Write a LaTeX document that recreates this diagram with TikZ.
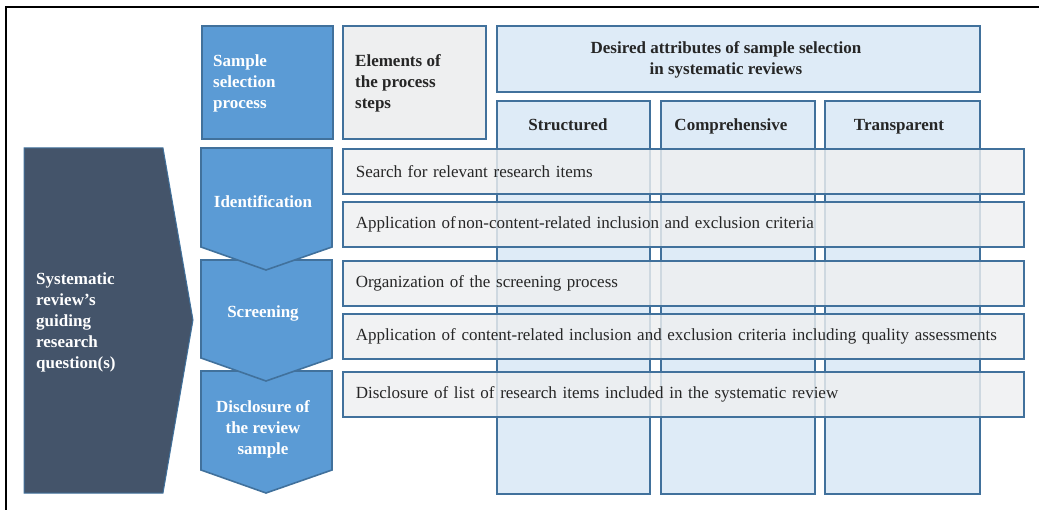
\documentclass[tikz,border=0pt]{standalone}
\usepackage{fontspec}
\setmainfont{Liberation Serif}
\usepackage{tikz}

\definecolor{stepblue}{HTML}{5B9BD5}
\definecolor{edgeblue}{HTML}{41719C}
\definecolor{paleblue}{HTML}{DEEBF7}
\definecolor{palegray}{HTML}{EEEFF0}
\definecolor{slate}{HTML}{44546A}
\definecolor{inktext}{HTML}{262626}
\newcommand{\txtsize}{\fontsize{17pt}{21pt}\selectfont}

\tikzset{
    boxline/.style={draw=edgeblue, line width=1.6pt},
    stepbox/.style={boxline, fill=stepblue},
    attrbox/.style={boxline, fill=paleblue, anchor=north west},
    rowbox/.style={boxline, fill=palegray, fill opacity=0.82, text opacity=1,
        anchor=north west, minimum height=45pt, text width=655pt,
        inner xsep=13pt, align=left, text=inktext, font=\txtsize},
    whitetxt/.style={text=white, font=\txtsize\bfseries, inner sep=0pt},
    headtxt/.style={text=inktext, font=\txtsize\bfseries, inner sep=0pt},
}

\begin{document}
\begin{tikzpicture}[x=1pt, y=-1pt]
    \useasboundingbox (0,0) rectangle (1039,510);
    \draw[line width=2pt] (6,510) -- (6,7) -- (1039,7);

    % header row
    \node[stepbox, anchor=north west, minimum width=131pt, minimum height=113pt] (selbox) at (201,25) {};
    \node[whitetxt, anchor=west, align=left] (sellabel) at (213,83) {Sample\\selection\\process};
    \node[boxline, fill=palegray, anchor=north west, minimum width=143pt, minimum height=113pt] (elembox) at (342,25) {};
    \node[headtxt, anchor=west, align=left] (elemlabel) at (355,83) {Elements of\\the process\\steps};
    \node[attrbox, minimum width=483pt, minimum height=66pt] (attrbox) at (496,25) {};
    \node[headtxt, align=center] (attrlabel) at (726,60) {Desired attributes of sample selection\\in systematic reviews};

    % attribute columns
    \node[attrbox, minimum width=153pt, minimum height=393pt] (colstruct) at (496,100) {};
    \node[attrbox, minimum width=154pt, minimum height=393pt] (colcomp) at (660,100) {};
    \node[attrbox, minimum width=155pt, minimum height=393pt] (coltrans) at (824,100) {};
    \node[headtxt, anchor=base] (structlabel) at (568,131) {Structured};
    \node[headtxt, anchor=base] (complabel) at (731,131) {Comprehensive};
    \node[headtxt, anchor=base] (translabel) at (899,131) {Transparent};

    % guiding question
    \draw[draw=edgeblue, line width=1pt, fill=slate] (24,148) -- (163,148) -- (193,320) -- (163,493) -- (24,493) -- cycle;
    \node[whitetxt, anchor=west, align=left] (question) at (36,322) {Systematic\\review’s\\guiding\\research\\question(s)};

    % process steps
    \draw[stepbox] (201,371) -- (332,371) -- (332,470) -- (266,493) -- (201,470) -- cycle;
    \draw[stepbox] (201,260) -- (332,260) -- (332,358) -- (266,381) -- (201,358) -- cycle;
    \draw[stepbox] (201,148) -- (332,148) -- (332,247) -- (266,270) -- (201,247) -- cycle;
    \node[whitetxt] (ident) at (263,202) {Identification};
    \node[whitetxt] (screen) at (263,313) {Screening};
    \node[whitetxt, align=center] (disclose) at (263,429) {Disclosure of\\the review\\sample};

    % elements of the steps
    \node[rowbox] (search) at (342,148) {Search for relevant research items};
    \node[rowbox] (noncontent) at (342,201) {Application of\hspace{2pt}non-content-related inclusion and exclusion criteria};
    \node[rowbox] (organize) at (342,260) {Organization of the screening process};
    \node[rowbox] (content) at (342,313) {Application of content-related inclusion and exclusion criteria including quality assessments};
    \node[rowbox] (list) at (342,371) {Disclosure of list of research items included in the systematic review};
\end{tikzpicture}
\end{document}
